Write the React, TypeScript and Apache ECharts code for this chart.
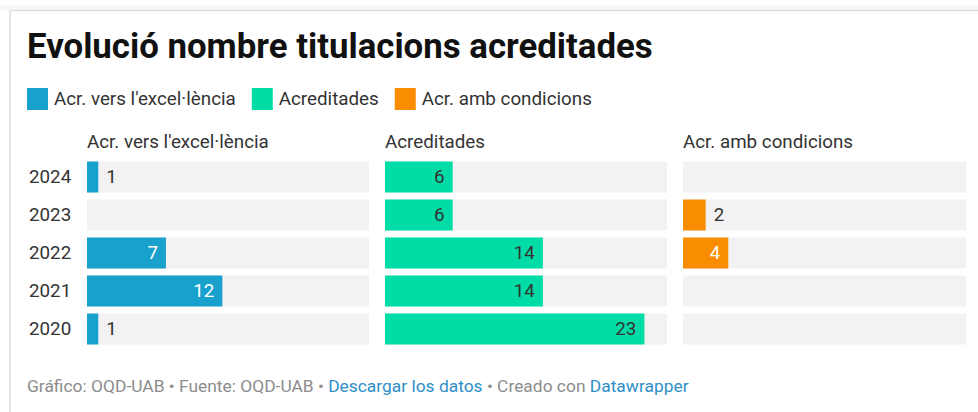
import React, { useEffect, useRef } from "react";
import * as echarts from "echarts";

const years = ["2024", "2023", "2022", "2021", "2020"];
const excelencia = [1, 0, 7, 12, 1];
const acreditades = [6, 6, 14, 14, 23];
const condicions = [0, 2, 4, 0, 0];
const seriesNames = ["Acr. vers l'excel·lència", "Acreditades", "Acr. amb condicions"];
const seriesColors = ["#18a1cd", "#00dca6", "#fa8c00"];
const insideLabelColors = ["#ffffff", "#333333", "#ffffff"];
const domainMax = 25;

const FONT = "Roboto";
const FS = 18.8;

export default function App() {
  const ref = useRef<HTMLDivElement>(null);
  useEffect(() => {
    if (!ref.current) return;
    const chart = echarts.init(ref.current, null, { renderer: "svg" });
    const allData = [excelencia, acreditades, condicions];
    const lefts = [87, 385, 683];
    const widths = [282, 282, 283];
    const gridTop = 158;
    const gridHeight = 190;

    const grids = lefts.map((l, i) => ({
      left: l,
      top: gridTop,
      width: widths[i],
      height: gridHeight,
      containLabel: false,
    }));
    const xAxes = lefts.map((_, i) => ({
      type: "value",
      gridIndex: i,
      min: 0,
      max: domainMax,
      show: false,
    }));
    const yAxes = lefts.map((_, i) => ({
      type: "category",
      gridIndex: i,
      data: years,
      inverse: true,
      axisLine: { show: false },
      axisTick: { show: false },
      splitLine: { show: false },
      axisLabel: {
        show: i === 0,
        align: "left",
        margin: 58,
        color: "#333333",
        fontSize: FS,
        fontFamily: FONT,
      },
    }));
    const series = allData.map((arr, i) => ({
      name: seriesNames[i],
      type: "bar",
      xAxisIndex: i,
      yAxisIndex: i,
      barWidth: 31,
      showBackground: true,
      backgroundStyle: { color: "#f2f2f2" },
      itemStyle: { color: seriesColors[i] },
      data: arr.map((v) => ({
        value: v,
        label: {
          show: v > 0,
          position: v >= 3 ? "insideRight" : "right",
          distance: 8,
          color: v >= 3 ? insideLabelColors[i] : "#333333",
          fontSize: FS,
          fontFamily: FONT,
        },
      })),
    }));

    const headers = seriesNames.map((n, i) => ({
      type: "text",
      x: lefts[i],
      y: 142,
      style: {
        text: n,
        fill: "#333333",
        font: `${FS}px ${FONT}`,
        verticalAlign: "middle",
      },
    }));

    chart.setOption({
      animation: false,
      grid: grids,
      xAxis: xAxes,
      yAxis: yAxes,
      series,
      legend: {
        left: 27,
        top: 88,
        padding: 0,
        itemWidth: 21,
        itemHeight: 22,
        itemGap: 16,
        icon: "rect",
        selectedMode: false,
        textStyle: { color: "#333333", fontSize: FS, fontFamily: FONT, padding: [0, 0, 0, 1] },
        data: seriesNames,
      },
      graphic: [
        {
          type: "rect",
          shape: { x: 0, y: 5, width: 978, height: 5 },
          style: { fill: "#f7f7f7" },
          silent: true,
        },
        {
          type: "rect",
          shape: { x: 10, y: 10.5, width: 1000, height: 500 },
          style: { fill: "none", stroke: "#dddddd", lineWidth: 1.5 },
          silent: true,
        },
        {
          type: "text",
          x: 27,
          y: 46,
          style: {
            text: "Evolució nombre titulacions acreditades",
            fill: "#111111",
            font: `bold 34.8px ${FONT}`,
            verticalAlign: "middle",
          },
        },
        ...headers,
        {
          type: "text",
          x: 27,
          y: 386,
          style: {
            text: "{g|Gráfico: OQD-UAB • Fuente: OQD-UAB • }{b|Descargar los datos}{g| • Creado con }{b|Datawrapper}",
            verticalAlign: "middle",
            rich: {
              g: { fill: "#8c8c8c", fontSize: 17.4, fontFamily: FONT },
              b: { fill: "#2f8fc7", fontSize: 17.4, fontFamily: FONT },
            },
          },
        },
      ],
    });
    return () => chart.dispose();
  }, []);
  return (
    <div
      ref={ref}
      style={{ position: "fixed", left: 0, top: 0, width: 978, height: 412, background: "#ffffff" }}
    />
  );
}
